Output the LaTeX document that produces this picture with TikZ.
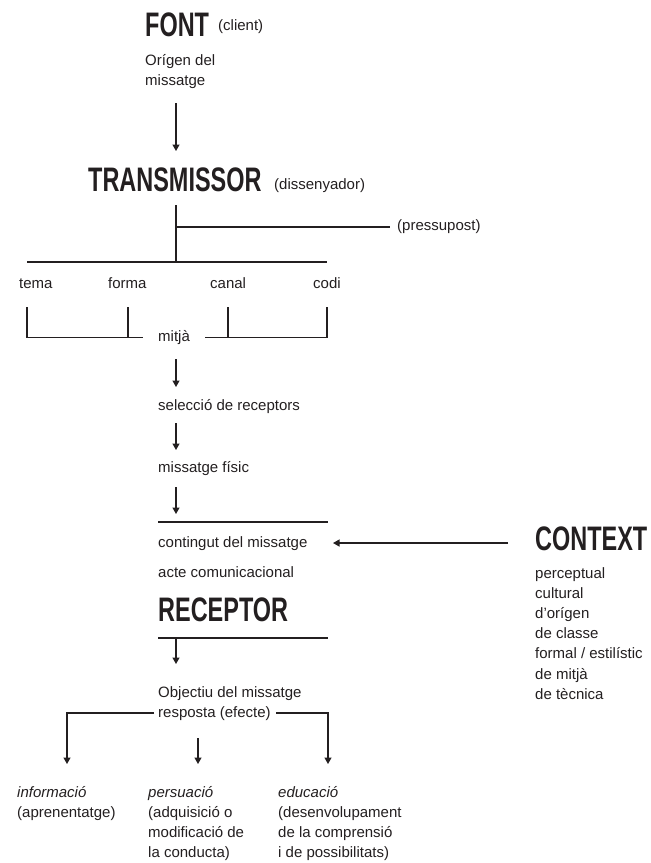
\documentclass[tikz,border=0pt]{standalone}
\usepackage{fontspec}
\setmainfont{Liberation Sans}
\newfontfamily\headfont[FakeStretch=0.69]{Liberation Sans}
\usetikzlibrary{arrows.meta}
\definecolor{ink}{HTML}{231F20}
\begin{document}
\begin{tikzpicture}[x=1pt,y=-1pt,
  txt/.style={font=\fontsize{15}{17}\selectfont, inner sep=0pt, anchor=base west, text=ink},
  itxt/.style={txt, font=\fontsize{15}{17}\selectfont\itshape},
  head/.style={font=\headfont\bfseries\fontsize{34}{36}\selectfont, inner sep=0pt, anchor=base west, text=ink},
  wire/.style={draw=ink, line width=1.3pt},
  arr/.style={wire, -{Triangle[length=6.5pt,width=7pt]}}
]
\useasboundingbox (0,0) rectangle (651,863);

% --- source ---
\node[head] (font) at (145,36) {FONT};
\node[txt] (client) at (218,30) {(client)};
\node[txt] (orig1) at (145,65) {Orígen del};
\node[txt] (orig2) at (145,85) {missatge};
\coordinate (a1s) at (176,103);
\coordinate (a1e) at (176,151);
\draw[arr] (a1s) -- (a1e);

% --- transmitter ---
\node[head] (trans) at (88,191) {TRANSMISSOR};
\node[txt] (dis) at (274,189) {(dissenyador)};
\coordinate (tdown) at (176,205);
\coordinate (tbranch) at (176,227);
\coordinate (tpres) at (390,227);
\coordinate (tjoin) at (176,262);
\node[txt] (pres) at (397,230) {(pressupost)};
\draw[wire] (tdown) -- (tjoin);
\draw[wire] (tbranch) -- (tpres);
\coordinate (barL) at (27,262);
\coordinate (barR) at (327,262);
\draw[wire] (barL) -- (barR);

\node[txt] (tema) at (19,288) {tema};
\node[txt] (forma) at (108,288) {forma};
\node[txt] (canal) at (210,288) {canal};
\node[txt] (codi) at (313,288) {codi};

% --- medium brackets ---
\coordinate (b1t) at (27,307);   \coordinate (b1b) at (27,337.5);
\coordinate (b2t) at (128,307);  \coordinate (b2b) at (128,337.5);
\coordinate (b3t) at (228,307);  \coordinate (b3b) at (228,337.5);
\coordinate (b4t) at (327,307);  \coordinate (b4b) at (327,337.5);
\coordinate (bLend) at (143,337.5);
\coordinate (bRend) at (205,337.5);
\draw[wire] (b1t) -- (b1b) -- (bLend);
\draw[wire] (b2t) -- (b2b);
\draw[wire] (b3t) -- (b3b);
\draw[wire] (bRend) -- (b4b) -- (b4t);
\node[txt] (mitja) at (158,341.5) {mitjà};

\coordinate (a2s) at (176,359);
\coordinate (a2e) at (176,387);
\draw[arr] (a2s) -- (a2e);
\node[txt] (selec) at (158,410) {selecció de receptors};
\coordinate (a3s) at (176,423);
\coordinate (a3e) at (176,450);
\draw[arr] (a3s) -- (a3e);
\node[txt] (fisic) at (158,472) {missatge físic};
\coordinate (a4s) at (176,487);
\coordinate (a4e) at (176,514);
\draw[arr] (a4s) -- (a4e);

\coordinate (mL) at (158,522);
\coordinate (mR) at (328,522);
\draw[wire] (mL) -- (mR);
\node[txt] (cont) at (158,547) {contingut del missatge};
\node[txt] (acte) at (158,577) {acte comunicacional};

% --- context ---
\node[head] (context) at (535,550) {CONTEXT};
\coordinate (cs) at (508,543);
\coordinate (ce) at (333,543);
\draw[arr] (cs) -- (ce);
\node[txt] (c1) at (535,578) {perceptual};
\node[txt] (c2) at (535,598.2) {cultural};
\node[txt] (c3) at (535,618.4) {d’orígen};
\node[txt] (c4) at (535,638.6) {de classe};
\node[txt] (c5) at (535,658.8) {formal / estilístic};
\node[txt] (c6) at (535,679) {de mitjà};
\node[txt] (c7) at (535,699.2) {de tècnica};

% --- receiver ---
\node[head] (recep) at (158,621) {RECEPTOR};
\coordinate (rL) at (158,638);
\coordinate (rR) at (328,638);
\coordinate (rT) at (176,638);
\coordinate (rE) at (176,664);
\draw[wire] (rL) -- (rR);
\draw[arr] (rT) -- (rE);
\node[txt] (obj) at (158,697) {Objectiu del missatge};
\node[txt] (resp) at (158,717) {resposta (efecte)};

\coordinate (lS) at (154,713);
\coordinate (lC) at (67,713);
\coordinate (lE) at (67,764);
\coordinate (rS) at (276,713);
\coordinate (rC) at (328,713);
\coordinate (rE2) at (328,764);
\coordinate (mS) at (198,738);
\coordinate (mE) at (198,764);
\draw[arr] (lS) -- (lC) -- (lE);
\draw[arr] (rS) -- (rC) -- (rE2);
\draw[arr] (mS) -- (mE);

% --- effects ---
\node[itxt] (inf) at (17,797) {informació};
\node[txt] (inf2) at (17,817) {(aprenentatge)};
\node[itxt] (per) at (148,797) {persuació};
\node[txt] (per2) at (148,817) {(adquisició o};
\node[txt] (per3) at (148,837) {modificació de};
\node[txt] (per4) at (148,857) {la conducta)};
\node[itxt] (edu) at (278,797) {educació};
\node[txt] (edu2) at (278,817) {(desenvolupament};
\node[txt] (edu3) at (278,837) {de la comprensió};
\node[txt] (edu4) at (278,857) {i de possibilitats)};
\end{tikzpicture}
\end{document}
